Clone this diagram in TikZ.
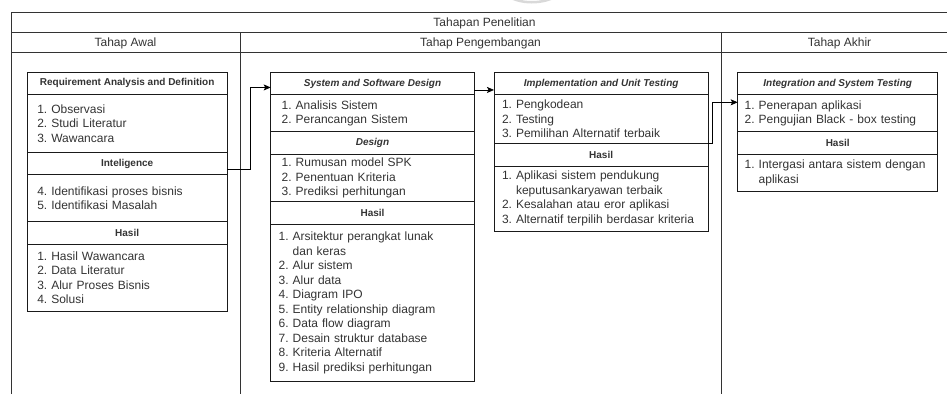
\documentclass[tikz,border=0pt]{standalone}
\usepackage{fontspec}
\setmainfont{Liberation Sans}
\usetikzlibrary{arrows.meta}
\definecolor{ink}{HTML}{333333}
\definecolor{edge}{HTML}{1A1A1A}
\frenchspacing
\begin{document}
\begin{tikzpicture}[x=1pt,y=-1pt,
  every node/.style={inner sep=0pt, outer sep=0pt, text=ink},
  frame/.style={draw=ink, line width=0.9pt},
  lane/.style={font=\fontsize{12pt}{14.5pt}\selectfont, text height=8.6pt, text depth=0pt},
  sechead/.style={draw=edge, line width=0.8pt, anchor=north west, align=center,
    font=\fontsize{10pt}{12pt}\selectfont\bfseries},
  secital/.style={sechead, font=\fontsize{10pt}{12pt}\selectfont\bfseries\itshape},
  seclist/.style={draw=edge, line width=0.8pt, anchor=north west, align=left,
    font=\fontsize{12pt}{14.5pt}\selectfont},
  conn/.style={draw=black, line width=0.8pt, -{Stealth[length=7pt,width=6pt,inset=1.5pt]}}
]
\useasboundingbox (0,0) rectangle (947,394);

% faint mark at the top edge
\draw[black!15, line width=2.5pt] (505,-6) .. controls (518,5) and (545,5) .. (560,-6);

% swimlane frame
\draw[frame] (11,394) -- (11,12) -- (947,12);
\draw[frame] (11,32) -- (947,32);
\draw[frame] (11,52) -- (947,52);
\draw[frame] (240,32) -- (240,394);
\draw[frame] (721,32) -- (721,394);

\node[lane] (title) at (484.5,22) {Tahapan Penelitian};
\node[lane] (colA) at (125.5,42) {Tahap Awal};
\node[lane] (colB) at (480.5,42) {Tahap Pengembangan};
\node[lane] (colC) at (839.5,42) {Tahap Akhir};

% Tahap Awal
\node[sechead, minimum width=199.7pt, minimum height=22.2pt] (b1h) at (27.3,72.3)
  {Requirement Analysis and Definition};
\node[seclist, minimum width=199.7pt, minimum height=57.8pt, text width=179.7pt, inner xsep=10pt] (b1l1) at (27.3,94.5)
  {1. Observasi\\2. Studi Literatur\\3. Wawancara};
\node[sechead, minimum width=199.7pt, minimum height=22.4pt] (b1h2) at (27.3,152.3) {Inteligence};
\node[seclist, minimum width=199.7pt, minimum height=47pt, text width=179.7pt, inner xsep=10pt] (b1l2) at (27.3,174.7)
  {4. Identifikasi proses bisnis\\5. Identifikasi Masalah};
\node[sechead, minimum width=199.7pt, minimum height=22.6pt] (b1h3) at (27.3,221.7) {Hasil};
\node[seclist, minimum width=199.7pt, minimum height=66.7pt, text width=179.7pt, inner xsep=10pt] (b1l3) at (27.3,244.3)
  {1. Hasil Wawancara\\2. Data Literatur\\3. Alur Proses Bisnis\\4. Solusi};

% Tahap Pengembangan: design
\node[secital, minimum width=203.6pt, minimum height=22.3pt] (b2h) at (270.7,72.3) {System and Software Design};
\node[seclist, minimum width=203.6pt, minimum height=37.1pt, text width=181.6pt, inner xsep=11pt] (b2l1) at (270.7,94.6)
  {1. Analisis Sistem\\2. Perancangan Sistem};
\node[secital, minimum width=203.6pt, minimum height=22.6pt] (b2h2) at (270.7,131.7) {Design};
\node[seclist, minimum width=203.6pt, minimum height=47.4pt, text width=181.6pt, inner xsep=11pt] (b2l2) at (270.7,154.3)
  {1. Rumusan model SPK\\2. Penentuan Kriteria\\3. Prediksi perhitungan};
\node[sechead, minimum width=203.6pt, minimum height=22.6pt] (b2h3) at (270.7,201.7) {Hasil};
\node[seclist, minimum width=203.6pt, minimum height=157.4pt, text width=187.6pt, inner xsep=8pt] (b2l3) at (270.7,224.3)
  {1. Arsitektur perangkat lunak\\\hphantom{1. }dan keras\\2. Alur sistem\\3. Alur data\\4. Diagram IPO\\
   5. Entity relationship diagram\\6. Data flow diagram\\7. Desain struktur database\\8. Kriteria Alternatif\\
   9. Hasil prediksi perhitungan};

% Tahap Pengembangan: implementation
\node[secital, minimum width=214.3pt, minimum height=22.3pt] (b3h) at (494,72.3) {Implementation and Unit Testing};
\node[seclist, minimum width=214.3pt, minimum height=48.7pt, text width=198.3pt, inner xsep=8pt] (b3l1) at (494,94.6)
  {1. Pengkodean\\2. Testing\\3. Pemilihan Alternatif terbaik};
\node[sechead, minimum width=214.3pt, minimum height=22.7pt] (b3h2) at (494,143.3) {Hasil};
\node[seclist, minimum width=214.3pt, minimum height=65pt, text width=198.3pt, inner xsep=8pt] (b3l2) at (494,166)
  {1. Aplikasi sistem pendukung\\\hphantom{1. }keputusankaryawan terbaik\\2. Kesalahan atau eror aplikasi\\
   3. Alternatif terpilih berdasar kriteria};

% Tahap Akhir
\node[secital, minimum width=200pt, minimum height=22.4pt] (b4h) at (737.7,72.3) {Integration and System Testing};
\node[seclist, minimum width=200pt, minimum height=37pt, text width=186pt, inner xsep=7pt] (b4l1) at (737.7,94.7)
  {1. Penerapan aplikasi\\2. Pengujian Black - box testing};
\node[sechead, minimum width=200pt, minimum height=22.6pt] (b4h2) at (737.7,131.7) {Hasil};
\node[seclist, minimum width=200pt, minimum height=37.4pt, text width=186pt, inner xsep=7pt] (b4l2) at (737.7,154.3)
  {1. Intergasi antara sistem dengan\\\hphantom{1. }aplikasi};

% flow between the stages
\draw[conn] ([yshift=-5.5pt]b1h2.east) -- ++(23.5,0) |- ([yshift=-4pt]b2h.west);
\draw[conn] ([yshift=-6.5pt]b2h.east) -- ([yshift=-6.5pt]b3h.west);
\draw[conn] (b3l1.south east) -- ++(4,0) |- ([yshift=10.9pt]b4l1.west);
\end{tikzpicture}
\end{document}
